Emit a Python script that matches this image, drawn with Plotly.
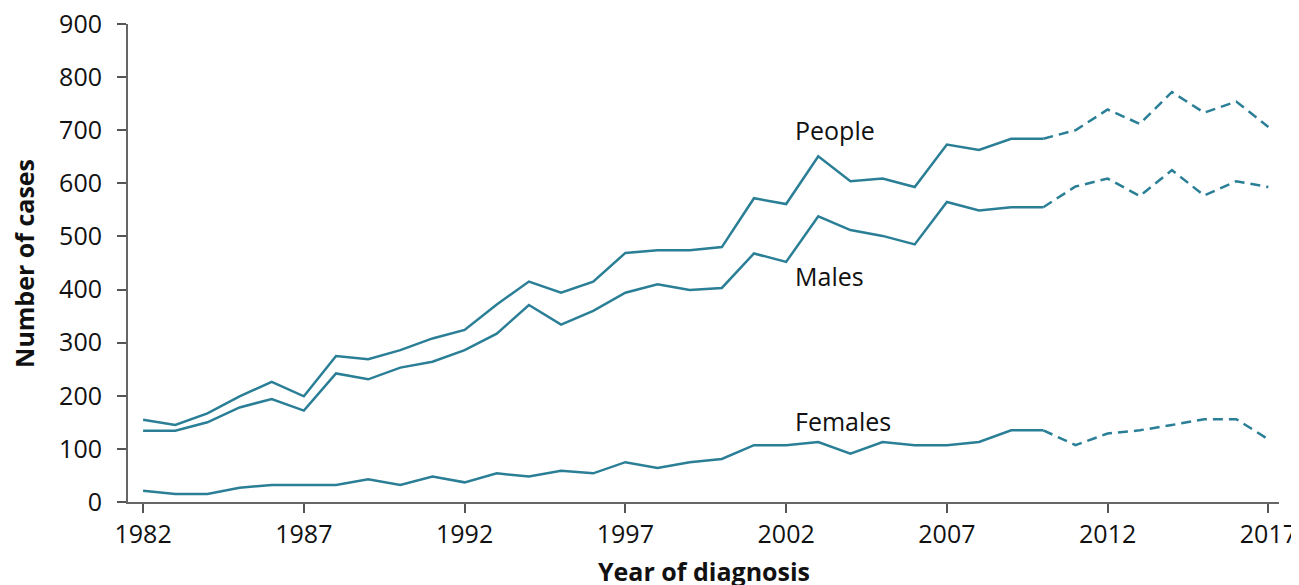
import plotly.graph_objects as go

years = list(range(1982, 2018))
people = [155, 145, 167, 199, 226, 199, 275, 269, 286, 308, 324, 372, 415, 394, 415, 469, 474, 474, 480, 572,
          561, 651, 604, 609, 593, 673, 663, 684, 684, 700, 739, 712, 772, 733, 754, 706]
males = [134, 134, 150, 178, 194, 172, 242, 231, 253, 264, 286, 317, 371, 334, 360, 394, 410, 399, 403, 468,
         452, 538, 512, 501, 485, 565, 549, 555, 555, 594, 609, 576, 625, 577, 604, 593]
females = [21, 15, 15, 27, 32, 32, 32, 43, 32, 48, 37, 54, 48, 59, 54, 75, 64, 75, 81, 107,
           107, 113, 91, 113, 107, 107, 113, 135, 135, 107, 129, 135, 145, 156, 156, 118]
split_year = 2010
labels = ["People", "Males", "Females"]
label_y = [700, 425, 153]
xticks = [1982, 1987, 1992, 1997, 2002, 2007, 2012, 2017]
yticks = [0, 100, 200, 300, 400, 500, 600, 700, 800, 900]

color = "#2a7f96"
font = "Open Sans"
fs = 25

fig = go.Figure()
si = years.index(split_year)
for name, vals in zip(labels, [people, males, females]):
    fig.add_trace(go.Scatter(x=years[:si + 1], y=vals[:si + 1], mode="lines",
                             line=dict(color=color, width=2.5), name=name, showlegend=False))
    fig.add_trace(go.Scatter(x=years[si:], y=vals[si:], mode="lines",
                             line=dict(color=color, width=2.5, dash="10px,6px"), name=name, showlegend=False))

for name, ly in zip(labels, label_y):
    fig.add_annotation(x=2002.2, y=ly, text=name, showarrow=False, xanchor="left", yanchor="middle",
                       font=dict(family=font, size=fs, color="#111"))

fig.add_annotation(xref="paper", yref="paper", x=0.5, y=-0.145, text="<b>Year of diagnosis</b>",
                   showarrow=False, xanchor="center", yanchor="middle",
                   font=dict(family=font, size=fs, color="#111"))
fig.add_annotation(xref="paper", yref="paper", x=-0.0904, y=0.5, text="<b>Number of cases</b>",
                   showarrow=False, textangle=-90, xanchor="center", yanchor="middle",
                   font=dict(family=font, size=fs, color="#111"))

fig.update_layout(
    width=1291, height=577,
    margin=dict(l=120, r=20, t=16, b=83),
    plot_bgcolor="white", paper_bgcolor="white",
    font=dict(family=font, size=fs, color="#111"),
)
fig.update_xaxes(range=[1981.53, 2017.33], tickvals=xticks, ticks="outside", ticklen=9, tickwidth=1.5,
                 tickcolor="#555", showline=True, linecolor="#666", linewidth=2, showgrid=False,
                 zeroline=False, automargin=False, ticklabelstandoff=0, ticklabeloverflow="allow",
                 tickfont=dict(family=font, size=fs, color="#111"))
fig.update_yaxes(range=[0, 900], tickvals=yticks, ticks="outside", ticklen=9, tickwidth=1.5,
                 tickcolor="#555", showline=True, linecolor="#666", linewidth=2, showgrid=False,
                 zeroline=False, automargin=False, ticklabelstandoff=10, ticklabeloverflow="allow",
                 tickfont=dict(family=font, size=fs, color="#111"))

fig.write_html("out.html")
